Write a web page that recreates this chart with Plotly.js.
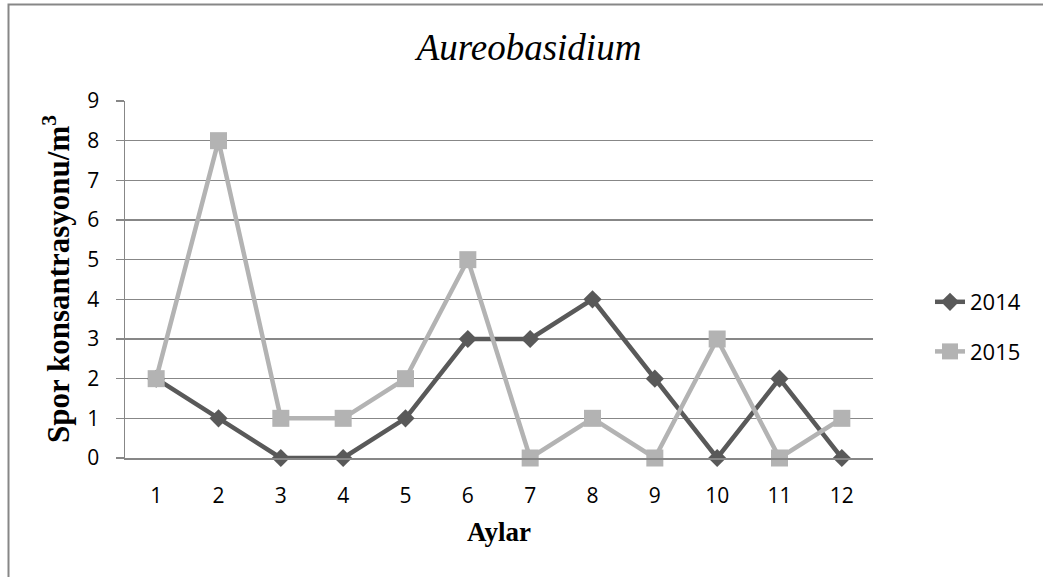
<!DOCTYPE html>
<html>
<head>
<meta charset="utf-8">
<script src="https://cdn.plot.ly/plotly-3.0.1.min.js"></script>
<style>html,body{margin:0;padding:0;background:#fff;}#chart{width:1043px;height:577px;}</style>
</head>
<body>
<div id="chart"></div>
<script>
const months = ["1","2","3","4","5","6","7","8","9","10","11","12"];
const series2014 = [2,1,0,0,1,3,3,4,2,0,2,0];
const series2015 = [2,8,1,1,2,5,0,1,0,3,0,1];
const seriesNames = ["2014","2015"];
const yTicks = [0,1,2,3,4,5,6,7,8,9];

const L = 125, R = 170, T = 101, B = 119, W = 1043, H = 577;
const pw = W - L - R, ph = H - T - B;
const px = v => (v - L) / pw;
const py = v => (H - B - v) / ph;

const grid = '#878787';
const serif = '"Liberation Serif", "Times New Roman", serif';
const tickFont = {family: '"Open Sans", "Liberation Sans", sans-serif', size: 21, color: '#000'};

const traces = [
  {
    x: months, y: series2014, name: seriesNames[0], type: 'scatter', mode: 'lines+markers',
    legendgroup: 'a', cliponaxis: false,
    line: {color: '#595959', width: 4.5},
    marker: {symbol: 'diamond', size: 14, color: '#595959'}
  },
  {
    x: months, y: series2015, name: seriesNames[1], type: 'scatter', mode: 'lines+markers',
    legendgroup: 'b', cliponaxis: false,
    line: {color: '#b3b3b3', width: 4.5},
    marker: {symbol: 'square', size: 17, color: '#b3b3b3'}
  }
];

const layout = {
  width: W, height: H,
  margin: {l: L, r: R, t: T, b: B, pad: 0, autoexpand: false},
  paper_bgcolor: '#fff', plot_bgcolor: '#fff',
  showlegend: true,
  title: {
    text: '<i>Aureobasidium</i>',
    font: {family: serif, size: 37, color: '#000'},
    x: 529/1043, xref: 'container', xanchor: 'center',
    y: 1 - 47/577, yref: 'container', yanchor: 'middle'
  },
  xaxis: {
    type: 'category',
    range: [-0.5, 11.5],
    showgrid: false, zeroline: false,
    showline: true, linecolor: grid, linewidth: 1.5,
    ticks: '',
    tickfont: tickFont,
    ticklabelstandoff: 18,
    automargin: false,
    title: {text: '<b>Aylar</b>', standoff: 14,
      font: {family: serif, size: 27, color: '#000'}}
  },
  yaxis: {
    range: [0, 9],
    tickvals: yTicks,
    ticktext: yTicks.map(String),
    showgrid: true, gridcolor: grid, gridwidth: 1.5,
    zeroline: false,
    showline: true, linecolor: grid, linewidth: 1.5,
    ticks: 'outside', ticklen: 8, tickcolor: grid, tickwidth: 1.5,
    tickfont: tickFont,
    ticklabelstandoff: 12,
    automargin: false
  },
  annotations: [
    {text: '<b>Spor konsantrasyonu/m<sup>3</sup></b>', textangle: -90,
     xref: 'paper', yref: 'paper', x: px(56), y: py(279),
     xanchor: 'center', yanchor: 'middle', showarrow: false,
     font: {family: serif, size: 31, color: '#000'}}
  ],
  legend: {
    x: px(930), xanchor: 'left',
    y: py(327), yanchor: 'middle',
    font: {family: '"Open Sans", "Liberation Sans", sans-serif', size: 22, color: '#000'},
    bgcolor: 'rgba(0,0,0,0)',
    traceorder: 'grouped',
    tracegroupgap: 18
  },
  shapes: [
    {type: 'rect', xref: 'paper', yref: 'paper',
     x0: px(8.5), x1: px(1100), y0: py(650), y1: py(4.5),
     line: {color: grid, width: 2}, fillcolor: 'rgba(0,0,0,0)', layer: 'below'}
  ]
};

Plotly.newPlot('chart', traces, layout, {displayModeBar: false, staticPlot: true});
</script>
</body>
</html>
